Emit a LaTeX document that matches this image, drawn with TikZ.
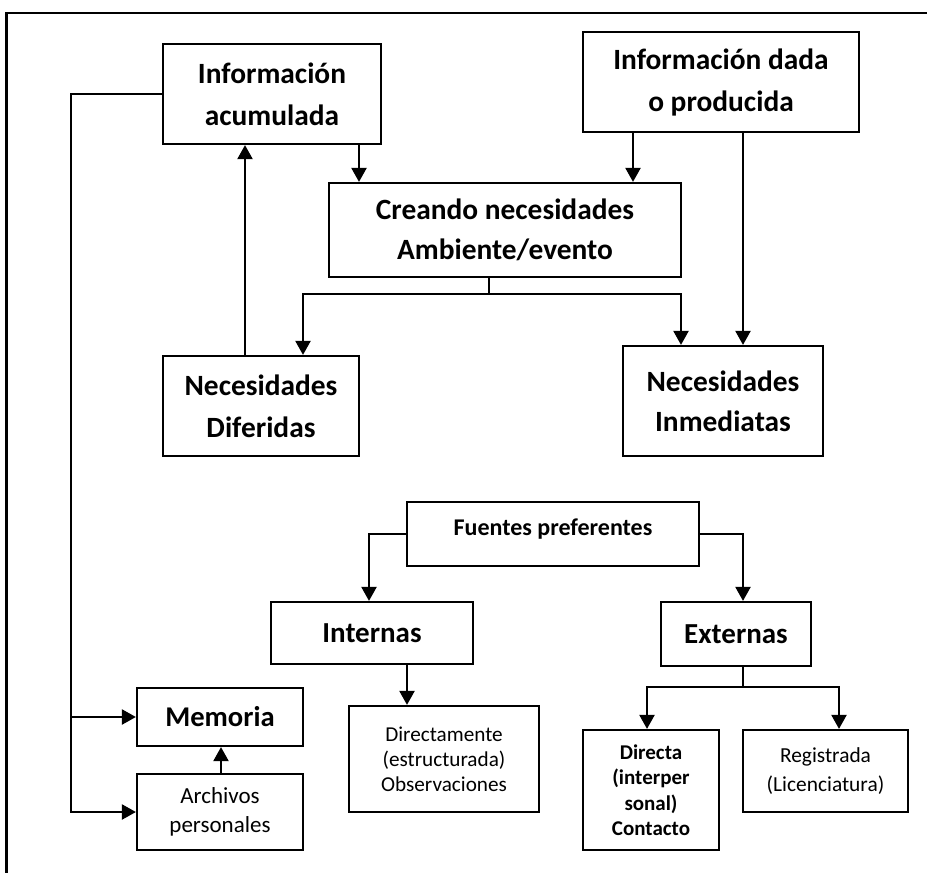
\documentclass[tikz,border=0pt]{standalone}
\usepackage{fontspec}
\setmainfont{Carlito}
\usetikzlibrary{arrows.meta}
\begin{document}
\begin{tikzpicture}[x=1pt,y=-1pt,
  box/.style={draw,line width=2.2pt,inner sep=0pt,align=center},
  bigtxt/.style={font=\fontsize{29.4}{42}\selectfont\bfseries},
  midtxt/.style={font=\fontsize{29}{32}\selectfont\bfseries},
  smbtxt/.style={font=\fontsize{24}{26}\selectfont\bfseries},
  smtxt/.style={font=\fontsize{21.2}{25}\selectfont},
  smbtxt2/.style={font=\fontsize{21}{25.5}\selectfont\bfseries},
  arr/.style={line width=2.2pt,-{Triangle[width=15pt,length=14pt]}}]
\useasboundingbox (0,0) rectangle (927,873);
\draw[line width=2.2pt] (927,13) -- (6.5,13) -- (6.5,873);

\node[box,bigtxt,minimum width=218,minimum height=100] (acum) at (272,94) {Información\\acumulada};
\node[box,bigtxt,minimum width=276,minimum height=100] (dada) at (721,82) {Información dada\\o producida};
\node[box,font=\fontsize{29.4}{40}\selectfont\bfseries,align=center,minimum width=352,minimum height=94] (crea) at (505,230) {Creando necesidades\\Ambiente/evento};
\node[box,bigtxt,minimum width=196,minimum height=100] (dif) at (261,406) {Necesidades\\Diferidas};
\node[box,font=\fontsize{29.4}{40}\selectfont\bfseries,align=center,minimum width=200,minimum height=110] (inm) at (723,401) {Necesidades\\Inmediatas};
\node[box,smbtxt,text height=12pt,text depth=8.6pt,minimum width=292,minimum height=64] (fue) at (553,534) {Fuentes preferentes};
\node[box,midtxt,minimum width=202,minimum height=62] (int) at (372,633) {Internas};
\node[box,midtxt,minimum width=150,minimum height=64] (ext) at (736,634) {Externas};
\node[box,font=\fontsize{28.6}{32}\selectfont\bfseries,minimum width=166,minimum height=58] (mem) at (220,717) {Memoria};
\node[box,font=\fontsize{23}{29}\selectfont,align=center,minimum width=166,minimum height=76] (arc) at (220,812) {Archivos\\personales};
\node[box,smtxt,minimum width=190,minimum height=106] (dir) at (444,759) {Directamente\\(estructurada)\\Observaciones};
\node[box,smbtxt2,minimum width=136,minimum height=120] (dta) at (651,790) {Directa\\(interper\\sonal)\\Contacto};
\node[box,font=\fontsize{21.4}{29}\selectfont,align=center,minimum width=165,minimum height=82] (reg) at (825.5,771) {Registrada\\(Licenciatura)};

\coordinate (ja) at (71,94);
\coordinate (jb) at (71,812);
\coordinate (jm) at (71,717);
\draw[arr] (acum.west) -- (ja) -- (jb) -- (arc.west);
\draw[arr] (jm) -- (mem.west);
\draw[arr] (dif.north -| 245,0) -- (acum.south -| 245,0);
\draw[arr] (acum.south -| 359,0) -- (crea.north -| 359,0);
\draw[arr] (dada.south -| 633,0) -- (crea.north -| 633,0);
\draw[arr] (dada.south -| 743,0) -- (inm.north -| 743,0);
\coordinate (c1) at (303,294);
\coordinate (c2) at (681,294);
\draw[arr] (crea.south -| 489,0) |- (c1) -- (dif.north -| c1);
\draw[arr] (crea.south -| 489,0) |- (c2) -- (inm.north -| c2);
\draw[arr] (fue.west) -| (int.north -| 369,0);
\draw[arr] (fue.east) -| (ext.north -| 743,0);
\draw[arr] (int.south -| 407,0) -- (dir.north -| 407,0);
\coordinate (e1) at (647,687);
\coordinate (e2) at (839,687);
\draw[arr] (ext.south -| 743,0) |- (e1) -- (dta.north -| e1);
\draw[arr] (ext.south -| 743,0) |- (e2) -- (reg.north -| e2);
\draw[arr] (arc.north -| 221,0) -- (mem.south -| 221,0);
\end{tikzpicture}
\end{document}
